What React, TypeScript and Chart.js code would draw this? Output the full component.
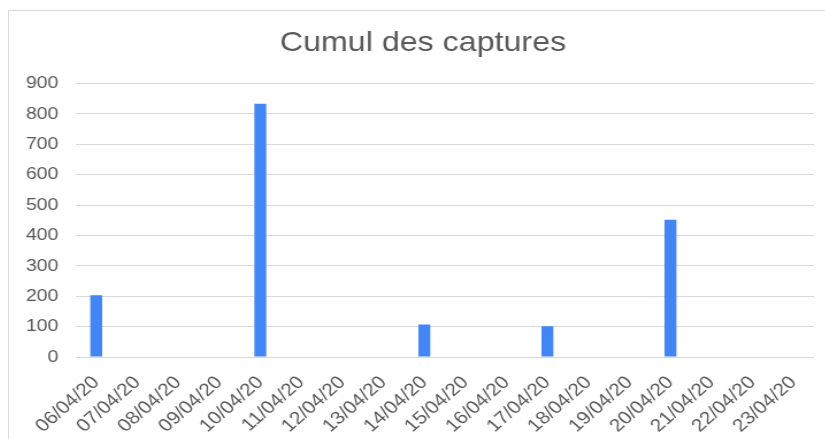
import React, { useEffect, useRef } from "react";
import { Chart, registerables } from "chart.js";

Chart.register(...registerables);

const TITLE = "Cumul des captures";
const categories = [
  "06/04/20", "07/04/20", "08/04/20", "09/04/20", "10/04/20", "11/04/20",
  "12/04/20", "13/04/20", "14/04/20", "15/04/20", "16/04/20", "17/04/20",
  "18/04/20", "19/04/20", "20/04/20", "21/04/20", "22/04/20", "23/04/20",
];
const captures = [203, 0, 0, 0, 834, 0, 0, 0, 107, 0, 0, 101, 0, 0, 452, 0, 0, 0];
const yMin = 0;
const yMax = 900;
const yStep = 100;

const STRETCH = 1.15;
const CW = 720;
const CH = 440;
const FONT = "'Liberation Sans', Arial, sans-serif";
const TEXT = "#595959";
const GRID = "#d9d9d9";

export default function App() {
  const ref = useRef<HTMLCanvasElement | null>(null);
  useEffect(() => {
    if (!ref.current) return;
    const chart = new Chart(ref.current, {
      type: "bar",
      data: {
        labels: categories,
        datasets: [
          {
            label: TITLE,
            data: captures,
            backgroundColor: "#4285f4",
            borderWidth: 0,
            barPercentage: 0.29,
            categoryPercentage: 1,
          },
        ],
      },
      options: {
        responsive: false,
        animation: false,
        devicePixelRatio: 1,
        layout: { padding: 0 },
        plugins: {
          legend: { display: false },
          tooltip: { enabled: false },
          title: {
            display: true,
            text: TITLE,
            color: TEXT,
            font: { family: FONT, size: 28, weight: "normal" },
            padding: { top: 15, bottom: 24 },
          },
        },
        scales: {
          x: {
            grid: { display: false, drawTicks: false },
            border: { display: false },
            ticks: {
              color: TEXT,
              font: { family: FONT, size: 18 },
              minRotation: 45,
              maxRotation: 45,
              autoSkip: false,
              padding: 15,
            },
            afterFit: (s: any) => {
              s.height = 94;
            },
          },
          y: {
            min: yMin,
            max: yMax,
            grid: { color: GRID, lineWidth: 1, drawTicks: false },
            border: { display: false },
            ticks: {
              stepSize: yStep,
              color: TEXT,
              font: { family: FONT, size: 17 },
              padding: 15,
            },
            afterFit: (s: any) => {
              s.width = 58;
            },
          },
          yRightSpacer: {
            position: "right",
            display: true,
            grid: { display: false, drawTicks: false },
            border: { display: false },
            ticks: { display: false },
            afterFit: (s: any) => {
              s.width = 20;
            },
          },
        },
      },
    });
    return () => chart.destroy();
  }, []);

  return (
    <div
      style={{
        position: "absolute",
        left: 8,
        top: 10,
        width: 817,
        height: 429,
        overflow: "hidden",
        boxSizing: "border-box",
        borderTop: "1px solid #d9d9d9",
        borderLeft: "1px solid #d9d9d9",
        background: "#fff",
      }}
    >
      <div style={{ transform: `scaleX(${STRETCH})`, transformOrigin: "0 0", width: CW, height: CH }}>
        <canvas ref={ref} width={CW} height={CH} style={{ display: "block" }} />
      </div>
    </div>
  );
}
